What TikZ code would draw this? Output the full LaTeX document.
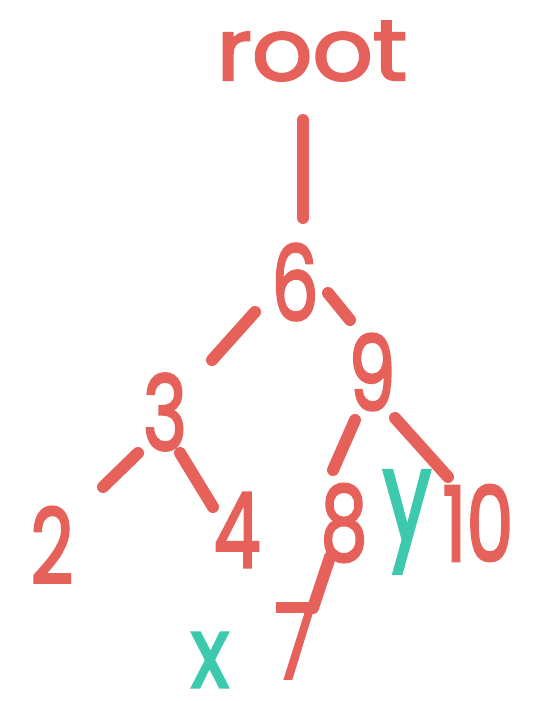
\documentclass[tikz,border=0pt]{standalone}
\usepackage{fontspec}
\setmainfont{Poppins}
\newfontfamily\hand{Poppins}[FakeBold=2.5]
\usetikzlibrary{calc}
\definecolor{inkred}{HTML}{E5615A}
\definecolor{inkteal}{HTML}{3CC9AE}
\tikzset{
  digit/.style={text=inkred, inner sep=0pt, xscale=0.72, font=\hand\fontsize{104}{104}\selectfont},
  word/.style={text=inkred, inner sep=0pt, font=\hand\fontsize{86}{86}\selectfont},
  var/.style={text=inkteal, inner sep=0pt, xscale=0.8, font=\hand\fontsize{100}{100}\selectfont},
  edge/.style={draw=inkred, line width=12pt, line cap=round}
}
\begin{document}
\begin{tikzpicture}[x=1pt,y=-1pt]
\useasboundingbox (0,0) rectangle (548,701);
\node[word,xscale=1.1] (root) at (312,51) {root};
\node[digit] (six) at (295,282) {6};
\node[digit] (three) at (165,412) {3};
\node[digit] (nine) at (372,372) {9};
\node[digit] (two) at (52,545) {2};
\node[digit] (four) at (237,530) {4};
\node[digit] (eight) at (344,523) {8};
\node[var,font=\hand\fontsize{128}{128}\selectfont,xscale=0.85] (yv) at (407,522) {y};
\node[digit] (ten) at (478,523) {10};
\node[digit] (seven) at (295,641) {7};
\node[var] (xv) at (210,660) {x};
\draw[edge] ($(root)+(-9,69)$) -- ($(six)+(8,-64)$);
\draw[edge] ($(six)+(-40,30)$) -- ($(three)+(47,-52)$);
\draw[edge] ($(six)+(33,11)$) -- ($(nine)+(-22,-52)$);
\draw[edge] ($(nine)+(-17,48)$) -- ($(eight)+(-11,-53)$);
\draw[edge] ($(nine)+(23,46)$) -- ($(ten)+(-30,-46)$);
\draw[edge] ($(three)+(-27,41)$) -- ($(two)+(51,-58)$);
\draw[edge] ($(three)+(15,41)$) -- ($(four)+(-24,-23)$);
\draw[edge] ($(eight)+(-14,34)$) -- ($(seven)+(18,-33)$);
\end{tikzpicture}
\end{document}
